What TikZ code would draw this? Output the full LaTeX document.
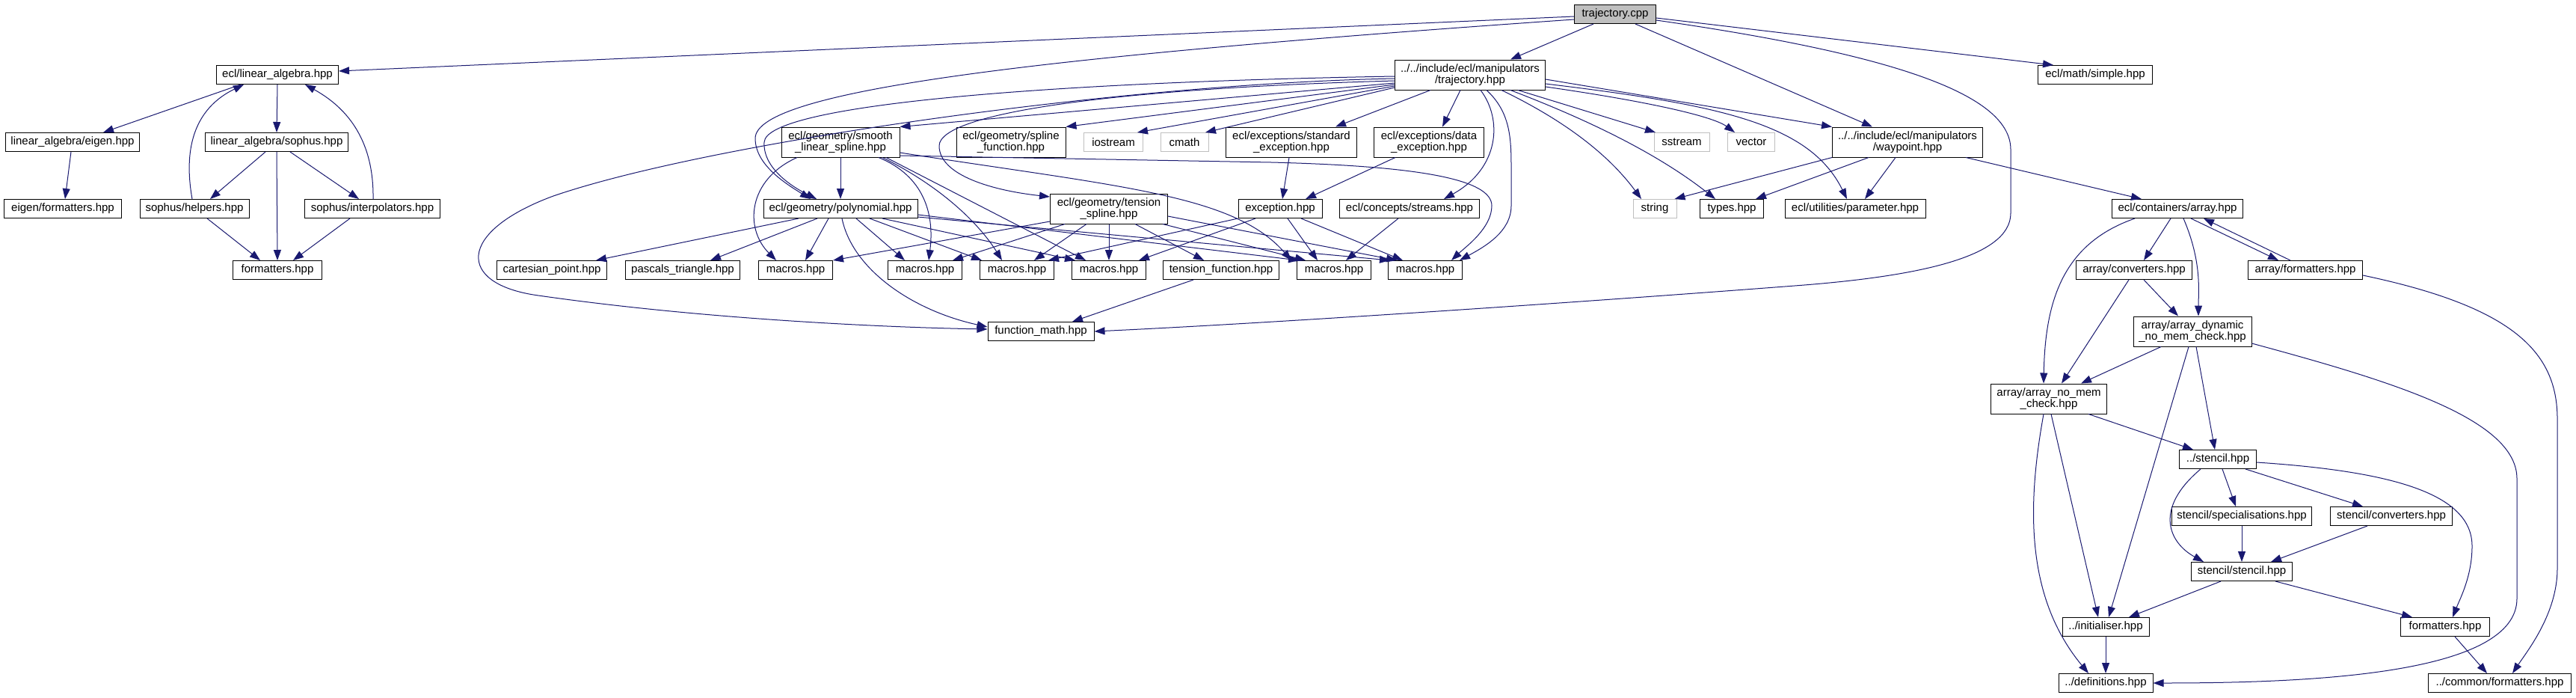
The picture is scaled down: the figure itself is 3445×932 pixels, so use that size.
\documentclass[tikz,border=0pt]{standalone}
\usepackage{fontspec}
\newfontfamily\dxfont{Liberation Sans}
\usetikzlibrary{arrows.meta}
\definecolor{edgeblue}{HTML}{191970}
\definecolor{sysgray}{HTML}{BFBFBF}
\newcommand{\dxf}{\dxfont\fontsize{15pt}{15.5pt}\selectfont}
\tikzset{
  box/.style={draw=black, line width=1pt, fill=white, minimum height=25, inner sep=0pt, align=center, font=\dxf},
  tall/.style={minimum height=40},
  sys/.style={draw=sysgray},
  edge/.style={draw=edgeblue, line width=1pt, -{Triangle[length=14pt,width=10pt]}}
}
\begin{document}
\begin{tikzpicture}[x=1pt,y=1pt]
\fill[white] (0,0) rectangle (3445,-932);
\useasboundingbox (0,0) rectangle (3445,-932);
% row 0
\node[box, minimum width=109, fill=sysgray] (tcpp) at (2160,-19) {trajectory.cpp};
% row 1
\node[box, tall, minimum width=201] (traj) at (1966,-100) {../../include/ecl/manipulators\\/trajectory.hpp};
\node[box, minimum width=163] (linalg) at (371,-100) {ecl/linear\_algebra.hpp};
\node[box, minimum width=153] (simple) at (2802,-100) {ecl/math/simple.hpp};
% row 2
\node[box, minimum width=179] (eigen) at (97,-190) {linear\_algebra/eigen.hpp};
\node[box, minimum width=191] (sophus) at (370,-190) {linear\_algebra/sophus.hpp};
\node[box, tall, minimum width=158] (smooth) at (1124,-190) {ecl/geometry/smooth\\\_linear\_spline.hpp};
\node[box, tall, minimum width=146] (splinef) at (1352,-190) {ecl/geometry/spline\\\_function.hpp};
\node[box, sys, minimum width=79] (iostream) at (1489,-190) {iostream};
\node[box, sys, minimum width=64] (cmath) at (1584,-190) {cmath};
\node[box, tall, minimum width=175] (stdexc) at (1727,-190) {ecl/exceptions/standard\\\_exception.hpp};
\node[box, tall, minimum width=147] (dataexc) at (1911,-190) {ecl/exceptions/data\\\_exception.hpp};
\node[box, sys, minimum width=74] (sstream) at (2249,-190) {sstream};
\node[box, sys, minimum width=63] (vector) at (2342,-190) {vector};
\node[box, tall, minimum width=201] (waypoint) at (2551,-190) {../../include/ecl/manipulators\\/waypoint.hpp};
% row 3
\node[box, minimum width=157] (eigfmt) at (84,-279) {eigen/formatters.hpp};
\node[box, minimum width=146] (helpers) at (260,-279) {sophus/helpers.hpp};
\node[box, minimum width=181] (interp) at (498,-279) {sophus/interpolators.hpp};
\node[box, minimum width=206] (poly) at (1124,-279) {ecl/geometry/polynomial.hpp};
\node[box, tall, minimum width=157] (tension) at (1483,-279) {ecl/geometry/tension\\\_spline.hpp};
\node[box, minimum width=112] (exception) at (1712,-279) {exception.hpp};
\node[box, minimum width=187] (streams) at (1885,-279) {ecl/concepts/streams.hpp};
\node[box, sys, minimum width=58] (string) at (2213,-279) {string};
\node[box, minimum width=85] (types) at (2316,-279) {types.hpp};
\node[box, minimum width=188] (param) at (2481,-279) {ecl/utilities/parameter.hpp};
\node[box, minimum width=175] (array) at (2912,-279) {ecl/containers/array.hpp};
% row 4
\node[box, minimum width=119] (fmt) at (371,-361) {formatters.hpp};
\node[box, minimum width=147] (cart) at (738,-361) {cartesian\_point.hpp};
\node[box, minimum width=153] (pascal) at (913,-361) {pascals\_triangle.hpp};
\node[box, minimum width=99] (m1) at (1064,-361) {macros.hpp};
\node[box, minimum width=99] (m2) at (1237,-361) {macros.hpp};
\node[box, minimum width=99] (m3) at (1360,-361) {macros.hpp};
\node[box, minimum width=99] (m4) at (1483,-361) {macros.hpp};
\node[box, minimum width=155] (tfunc) at (1633,-361) {tension\_function.hpp};
\node[box, minimum width=99] (m5) at (1784,-361) {macros.hpp};
\node[box, minimum width=99] (m6) at (1906,-361) {macros.hpp};
\node[box, minimum width=155] (arrconv) at (2854,-361) {array/converters.hpp};
\node[box, minimum width=153] (arrfmt) at (3083,-361) {array/formatters.hpp};
% row 5
\node[box, minimum width=142] (fmath) at (1392,-443) {function\_math.hpp};
\node[box, tall, minimum width=158] (dyn) at (2932,-443) {array/array\_dynamic\\\_no\_mem\_check.hpp};
% lower
\node[box, tall, minimum width=155] (nomem) at (2740,-533) {array/array\_no\_mem\\\_check.hpp};
\node[box, minimum width=103] (stencil) at (2966,-614) {../stencil.hpp};
\node[box, minimum width=187] (spec) at (2998,-690) {stencil/specialisations.hpp};
\node[box, minimum width=163] (stconv) at (3198,-690) {stencil/converters.hpp};
\node[box, minimum width=135] (ststencil) at (2998,-764) {stencil/stencil.hpp};
\node[box, minimum width=116] (init) at (2816,-838) {../initialiser.hpp};
\node[box, minimum width=119] (stfmt) at (3270,-838) {formatters.hpp};
\node[box, minimum width=126] (defs) at (2816,-913) {../definitions.hpp};
\node[box, minimum width=191] (cfmt) at (3343,-913) {../common/formatters.hpp};

% trajectory.cpp
\draw[edge] ([yshift=-3]tcpp.west) -- ([yshift=5]linalg.east);
\draw[edge] ([xshift=-29]tcpp.south) -- ([xshift=54]traj.north);
\draw[edge] ([yshift=-7]tcpp.west) .. controls (1400,-75) and (1010,-120) .. (1010,-185) .. controls (1010,-220) and (1050,-245) .. ([xshift=-40]poly.north);
\draw[edge] ([xshift=27]tcpp.south) -- ([xshift=-47]waypoint.north);
\draw[edge] ([yshift=-5]tcpp.east) -- ([xshift=-56]simple.north);
\draw[edge] ([yshift=-8]tcpp.east) .. controls (2550,-75) and (2689,-130) .. (2689,-200) -- (2689,-285) .. controls (2689,-345) and (2560,-370) .. (2400,-382) .. controls (2100,-405) and (1700,-432) .. (fmath.east);
% trajectory.hpp
\draw[edge] ([yshift=-2]traj.west) .. controls (1400,-110) and (1025,-140) .. (1022,-190) .. controls (1020,-225) and (1060,-250) .. ([xshift=-32]poly.north);
\draw[edge] ([yshift=-5]traj.west) .. controls (1500,-112) and (950,-190) .. (740,-262) .. controls (610,-310) and (610,-380) .. (720,-395) .. controls (950,-428) and (1200,-438) .. ([yshift=3]fmath.west);
\draw[edge] ([yshift=-8]traj.west) .. controls (1500,-118) and (1256,-150) .. (1256,-195) .. controls (1256,-235) and (1330,-255) .. ([yshift=16]tension.west);
\draw[edge] ([yshift=-11]traj.west) -- (smooth.north east);
\draw[edge] ([yshift=-13]traj.west) -- (splinef.north east);
\draw[edge] ([yshift=-15]traj.west) -- ([xshift=32]iostream.north);
\draw[edge] ([yshift=-17]traj.west) -- ([xshift=28]cmath.north);
\draw[edge] ([xshift=-53]traj.south) -- ([xshift=59]stdexc.north);
\draw[edge] ([xshift=-13]traj.south) -- ([xshift=18]dataexc.north);
\draw[edge] ([xshift=14]traj.south) .. controls (2010,-160) and (2005,-225) .. ([xshift=46]streams.north);
\draw[edge] ([xshift=22]traj.south) .. controls (2020,-150) and (2021,-185) .. (2021,-225) -- (2021,-275) .. controls (2021,-310) and (1985,-330) .. ([xshift=46]m6.north);
\draw[edge] ([xshift=42]traj.south) .. controls (2090,-160) and (2150,-205) .. ([xshift=-18]string.north);
\draw[edge] ([xshift=54]traj.south) .. controls (2110,-155) and (2210,-200) .. ([xshift=-22]types.north);
\draw[edge] ([xshift=64]traj.south) -- ([xshift=-35]sstream.north);
\draw[edge] ([yshift=-16]traj.east) .. controls (2200,-135) and (2290,-155) .. ([xshift=-22]vector.north);
\draw[edge] ([yshift=-6]traj.east) -- (waypoint.north west);
\draw[edge] ([yshift=-12]traj.east) .. controls (2300,-140) and (2420,-165) .. ([xshift=-11]param.north);
% smooth
\draw[edge] (smooth.south) -- (poly.north);
\draw[edge] ([xshift=-58]smooth.south) .. controls (1000,-240) and (995,-305) .. ([xshift=-26]m1.north);
\draw[edge] ([xshift=51]smooth.south) .. controls (1235,-235) and (1250,-285) .. ([xshift=5]m2.north);
\draw[edge] ([xshift=56]smooth.south) .. controls (1260,-250) and (1310,-300) .. ([xshift=-20]m3.north);
\draw[edge] ([xshift=61]smooth.south) -- ([xshift=-31]m4.north);
\draw[edge] ([yshift=-14]smooth.east) .. controls (1500,-250) and (1650,-260) .. ([xshift=-57]m5.north);
\draw[edge] ([yshift=-18]smooth.east) -- (1700,-217) .. controls (1900,-222) and (1995,-240) .. (1995,-275) .. controls (1995,-305) and (1960,-330) .. ([xshift=35]m6.north);
% polynomial
\draw[edge] ([xshift=-56]poly.south) -- ([xshift=59]cart.north);
\draw[edge] ([xshift=-31]poly.south) -- ([xshift=37]pascal.north);
\draw[edge] ([xshift=-16]poly.south) -- ([xshift=13]m1.north);
\draw[edge] ([xshift=2]poly.south) .. controls (1140,-360) and (1220,-415) .. ([yshift=6]fmath.west);
\draw[edge] ([xshift=21]poly.south) -- ([xshift=-27]m2.north);
\draw[edge] ([xshift=39]poly.south) -- ([xshift=-47]m3.north);
\draw[edge] ([xshift=56]poly.south) -- ([xshift=-45]m4.north);
\draw[edge] ([yshift=-8]poly.east) -- ([xshift=-47]m5.north);
\draw[edge] ([yshift=-11]poly.east) -- ([xshift=-47]m6.north);
% tension
\draw[edge] ([yshift=-17]tension.west) -- (m1.north east);
\draw[edge] ([xshift=-59]tension.south) -- ([xshift=37]m2.north);
\draw[edge] ([xshift=-30]tension.south) -- ([xshift=23]m3.north);
\draw[edge] (tension.south) -- (m4.north);
\draw[edge] ([xshift=35]tension.south) -- ([xshift=-23]tfunc.north);
\draw[edge] ([xshift=72]tension.south) -- ([xshift=-38]m5.north);
\draw[edge] ([yshift=-10]tension.east) -- ([xshift=-38]m6.north);
% exceptions
\draw[edge] ([xshift=-3]stdexc.south) -- ([xshift=3]exception.north);
\draw[edge] ([xshift=-45]dataexc.south) -- ([xshift=34]exception.north);
\draw[edge] (exception.south west) -- ([xshift=-8]m3.north east);
\draw[edge] ([xshift=-33]exception.south) -- ([xshift=40]m4.north);
\draw[edge] ([xshift=10]exception.south) -- ([xshift=-22]m5.north);
\draw[edge] ([xshift=28]exception.south) -- ([xshift=-30]m6.north);
\draw[edge] ([xshift=-15]streams.south) -- ([xshift=16]m5.north);
\draw[edge] ([xshift=-37]tfunc.south) -- ([xshift=42]fmath.north);
% waypoint
\draw[edge] (waypoint.south west) -- ([xshift=-3]string.north east);
\draw[edge] ([xshift=-52]waypoint.south) -- ([xshift=32]types.north);
\draw[edge] ([xshift=-16]waypoint.south) -- ([xshift=13]param.north);
\draw[edge] ([xshift=78]waypoint.south) -- ([xshift=-48]array.north);
% linear algebra
\draw[edge] ([xshift=-49]linalg.south) -- ([xshift=41]eigen.north);
\draw[edge] (linalg.south) -- (sophus.north);
\draw[edge] ([xshift=-3]helpers.north) .. controls (248,-215) and (250,-150) .. ([xshift=-45]linalg.south);
\draw[edge] ([xshift=1]interp.north) .. controls (500,-200) and (475,-150) .. ([xshift=37]linalg.south);
\draw[edge] ([xshift=-15]sophus.south) -- ([xshift=21]helpers.north);
\draw[edge] (sophus.south) -- (fmt.north);
\draw[edge] ([xshift=18]sophus.south) -- ([xshift=-18]interp.north);
\draw[edge] ([xshift=-2]eigen.south) -- ([xshift=3]eigfmt.north);
\draw[edge] ([xshift=17]helpers.south) -- ([xshift=-23]fmt.north);
\draw[edge] ([xshift=-30]interp.south) -- ([xshift=21]fmt.north);
% array
\draw[edge] ([xshift=-9]array.south) -- ([xshift=13]arrconv.north);
\draw[edge] ([xshift=8]array.south) .. controls (2945,-350) and (2940,-390) .. ([xshift=8]dyn.north);
\draw[edge] ([xshift=18]array.south) -- ([xshift=-36]arrfmt.north);
\draw[edge] ([xshift=-20]arrfmt.north) -- ([xshift=35]array.south);
\draw[edge] ([xshift=-57]array.south) .. controls (2760,-325) and (2735,-400) .. ([xshift=-7]nomem.north);
\draw[edge] ([xshift=-7]arrconv.south) -- ([xshift=17]nomem.north);
\draw[edge] ([xshift=13]arrconv.south) -- ([xshift=-19]dyn.north);
\draw[edge] ([yshift=-7]arrfmt.east) .. controls (3360,-410) and (3420,-470) .. (3420,-560) -- (3420,-760) .. controls (3420,-820) and (3380,-870) .. ([xshift=17]cfmt.north);
\draw[edge] ([xshift=-42]dyn.south) -- ([xshift=43]nomem.north);
\draw[edge] ([xshift=-5]dyn.south) -- ([xshift=4]init.north);
\draw[edge] ([xshift=5]dyn.south) -- ([xshift=-4]stencil.north);
\draw[edge] ([yshift=-16]dyn.east) .. controls (3200,-510) and (3366,-560) .. (3366,-640) -- (3366,-800) .. controls (3366,-900) and (3100,-913) .. (defs.east);
\draw[edge] ([xshift=53]nomem.south) -- ([xshift=-33]stencil.north);
\draw[edge] ([xshift=3]nomem.south) -- ([xshift=-10]init.north);
\draw[edge] ([xshift=-7]nomem.south) .. controls (2710,-680) and (2710,-800) .. ([xshift=-23]defs.north);
% stencil
\draw[edge] ([xshift=-23]stencil.south) .. controls (2880,-680) and (2900,-725) .. ([xshift=-51]ststencil.north);
\draw[edge] ([xshift=6]stencil.south) -- ([xshift=-8]spec.north);
\draw[edge] ([xshift=37]stencil.south) -- ([xshift=-38]stconv.north);
\draw[edge] ([yshift=-4]stencil.east) .. controls (3200,-630) and (3306,-660) .. (3306,-730) .. controls (3306,-770) and (3290,-800) .. ([xshift=10]stfmt.north);
\draw[edge] (spec.south) -- (ststencil.north);
\draw[edge] ([xshift=-32]stconv.south) -- ([xshift=39]ststencil.north);
\draw[edge] ([xshift=-28]ststencil.south) -- ([xshift=31]init.north);
\draw[edge] ([xshift=45]ststencil.south) -- ([xshift=-44]stfmt.north);
\draw[edge] (init.south) -- (defs.north);
\draw[edge] ([xshift=13]stfmt.south) -- ([xshift=-17]cfmt.north);
\end{tikzpicture}
\end{document}
